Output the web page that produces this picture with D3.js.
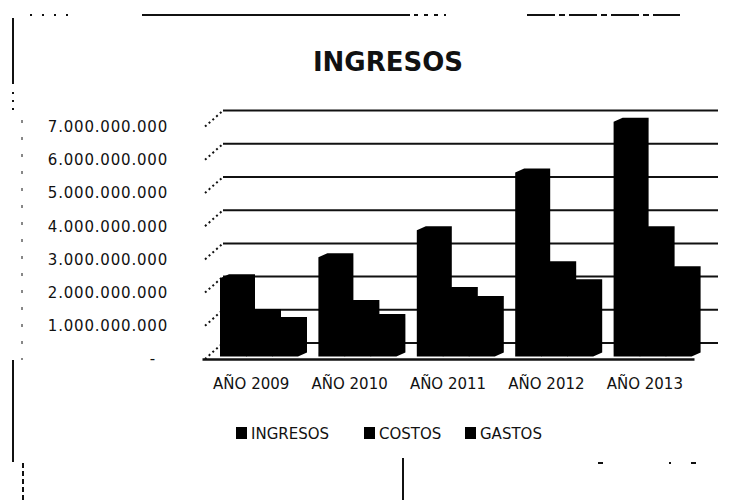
<!DOCTYPE html>
<html>
<head>
<meta charset="utf-8">
<script src="https://cdnjs.cloudflare.com/ajax/libs/d3/7.8.5/d3.min.js"></script>
<style>
    body { margin:0; background:#fff; }
    #chart { width:743px; height:500px; }
    text { font-family:"DejaVu Sans", sans-serif; fill:#111; }
</style>
</head>
<body>
<div id="chart"></div>
<script>
// values
var years = ["AÑO 2009","AÑO 2010","AÑO 2011","AÑO 2012","AÑO 2013"];
var series = ["INGRESOS","COSTOS","GASTOS"];
var ingresos = [2360000000, 2990000000, 3800000000, 5540000000, 7070000000];
var costos   = [1310000000, 1580000000, 1970000000, 2750000000, 3800000000];
var gastos   = [1070000000, 1160000000, 1700000000, 2210000000, 2600000000];
var yTicks = [0,1000000000,2000000000,3000000000,4000000000,5000000000,6000000000,7000000000];

var width = 743, height = 500;

var svg = d3.select("#chart")
    .append('svg')
    .attr('width',width)
    .attr('height',height);

// 3d offsets: side wall depth and the bars' own depth
var wall = {dx:18, dy:-16};
var bar = {dx:9, dy:-4, shift:18, lift:2.5};

var x = d3.scaleBand()
    .domain(years)
    .range([202, 694]);

var xs = d3.scaleBand()
    .domain(series)
    .range([0, 78]);

var y = d3.scaleLinear()
    .domain([0, 7000000000])
    .range([359, 126.6]);

var rows = years.map(function(d,i){
    return {year:d, values:[ingresos[i], costos[i], gastos[i]]};
});

var fmt = function(v){
    if(v==0) return "-";
    return d3.format(",")(v).replace(/,/g,".");
};

// scan leftovers of the chart frame
var frame = svg.append("g").attr("class","frame")
    .attr("stroke","#111").attr("fill","none");
frame.append("line").attr("x1",30).attr("x2",76).attr("y1",15).attr("y2",15)
    .attr("stroke-width",2).attr("stroke-dasharray","2,10");
frame.append("line").attr("x1",142).attr("x2",410).attr("y1",15).attr("y2",15).attr("stroke-width",2);
frame.append("line").attr("x1",414).attr("x2",446).attr("y1",15).attr("y2",15)
    .attr("stroke-width",2).attr("stroke-dasharray","4,6");
frame.append("line").attr("x1",527).attr("x2",680).attr("y1",15).attr("y2",15)
    .attr("stroke-width",2).attr("stroke-dasharray","28,4,6,4");
frame.append("line").attr("x1",13).attr("x2",13).attr("y1",18).attr("y2",84).attr("stroke-width",2);
frame.append("line").attr("x1",13).attr("x2",13).attr("y1",92).attr("y2",112)
    .attr("stroke-width",2).attr("stroke-dasharray","2,6");
frame.append("line").attr("x1",22).attr("x2",22).attr("y1",120).attr("y2",360)
    .attr("stroke-width",1).attr("stroke-dasharray","3,14");
frame.append("line").attr("x1",13).attr("x2",13).attr("y1",360).attr("y2",462).attr("stroke-width",2);
frame.append("line").attr("x1",23).attr("x2",23).attr("y1",463).attr("y2",500)
    .attr("stroke-width",2).attr("stroke-dasharray","5,3");
frame.append("line").attr("x1",403).attr("x2",403).attr("y1",458).attr("y2",500).attr("stroke-width",2);
frame.append("line").attr("x1",598).attr("x2",698).attr("y1",463).attr("y2",463)
    .attr("stroke-width",2).attr("stroke-dasharray","5,66,2,20");

// title
svg.append("text")
    .attr("x",388)
    .attr("y",71)
    .attr("text-anchor","middle")
    .style("font-size","26px")
    .style("font-weight","bold")
    .text("INGRESOS");

// back wall gridlines
var g = svg.append("g").attr("id","main_g");

g.selectAll(".grid")
    .data(yTicks)
    .enter()
    .append("line")
    .attr("class","grid")
    .attr("x1", x.range()[0] + 3 + wall.dx)
    .attr("x2", 718)
    .attr("y1", function(d){ return y(d) + wall.dy; })
    .attr("y2", function(d){ return y(d) + wall.dy; })
    .attr("stroke","#111")
    .attr("stroke-width",2);

// side wall gridlines (dotted)
g.selectAll(".side")
    .data(yTicks)
    .enter()
    .append("line")
    .attr("class","side")
    .attr("x1", x.range()[0] + 3)
    .attr("x2", x.range()[0] + 3 + wall.dx)
    .attr("y1", function(d){ return y(d); })
    .attr("y2", function(d){ return y(d) + wall.dy; })
    .attr("stroke","#111")
    .attr("stroke-width",2)
    .attr("stroke-dasharray","2,3");

// y axis labels
g.append("g")
    .attr("class","axis axis--y")
    .attr("transform","translate(170,0)")
    .call(d3.axisLeft(y).tickValues(yTicks).tickFormat(fmt).tickSize(0).tickPadding(2))
    .call(function(a){ a.select(".domain").remove(); })
    .selectAll("text")
    .style("font-size","15px")
    .style("letter-spacing","0.8px")
    .attr("dx", function(d){ return d==0 ? -12 : 0; });

// bars
var groups = g.selectAll(".year")
    .data(rows)
    .enter()
    .append("g")
    .attr("class","year")
    .attr("transform", function(d){ return "translate(" + (x(d.year) + bar.shift) + ",0)"; });

groups.selectAll("path")
    .data(function(d){ return d.values.map(function(v,i){ return {s:series[i], v:v}; }); })
    .enter()
    .append("path")
    .attr("fill","#000")
    .attr("d", function(d){
        var x0 = xs(d.s), w = xs.bandwidth();
        var yb = y(0) - bar.lift, yt = y(d.v) - bar.lift;
        return "M" + x0 + "," + yb +
            "L" + x0 + "," + yt +
            "L" + (x0 + bar.dx) + "," + (yt + bar.dy) +
            "L" + (x0 + w + bar.dx) + "," + (yt + bar.dy) +
            "L" + (x0 + w + bar.dx) + "," + (yb + bar.dy) +
            "L" + (x0 + w) + "," + yb + "Z";
    });

// floor front edge + category labels
g.append("g")
    .attr("class","axis axis--x")
    .attr("transform","translate(0," + y(0) + ")")
    .call(d3.axisBottom(x).tickSize(0).tickPadding(19))
    .call(function(a){ a.select(".domain").attr("stroke","#111").attr("stroke-width",2.5); })
    .selectAll("text")
    .style("font-size","15px");

// legend
var legendX = [236, 364, 465];
var legend = svg.selectAll(".legend")
    .data(series)
    .enter()
    .append("g")
    .attr("class","legend")
    .attr("transform", function(d,i){ return "translate(" + legendX[i] + ",427)"; });

legend.append("rect")
    .attr("width",11)
    .attr("height",12)
    .attr("fill","#000");

legend.append("text")
    .attr("x",15)
    .attr("y",12)
    .style("font-size","15px")
    .text(function(d){ return d; });
</script>
</body>
</html>
